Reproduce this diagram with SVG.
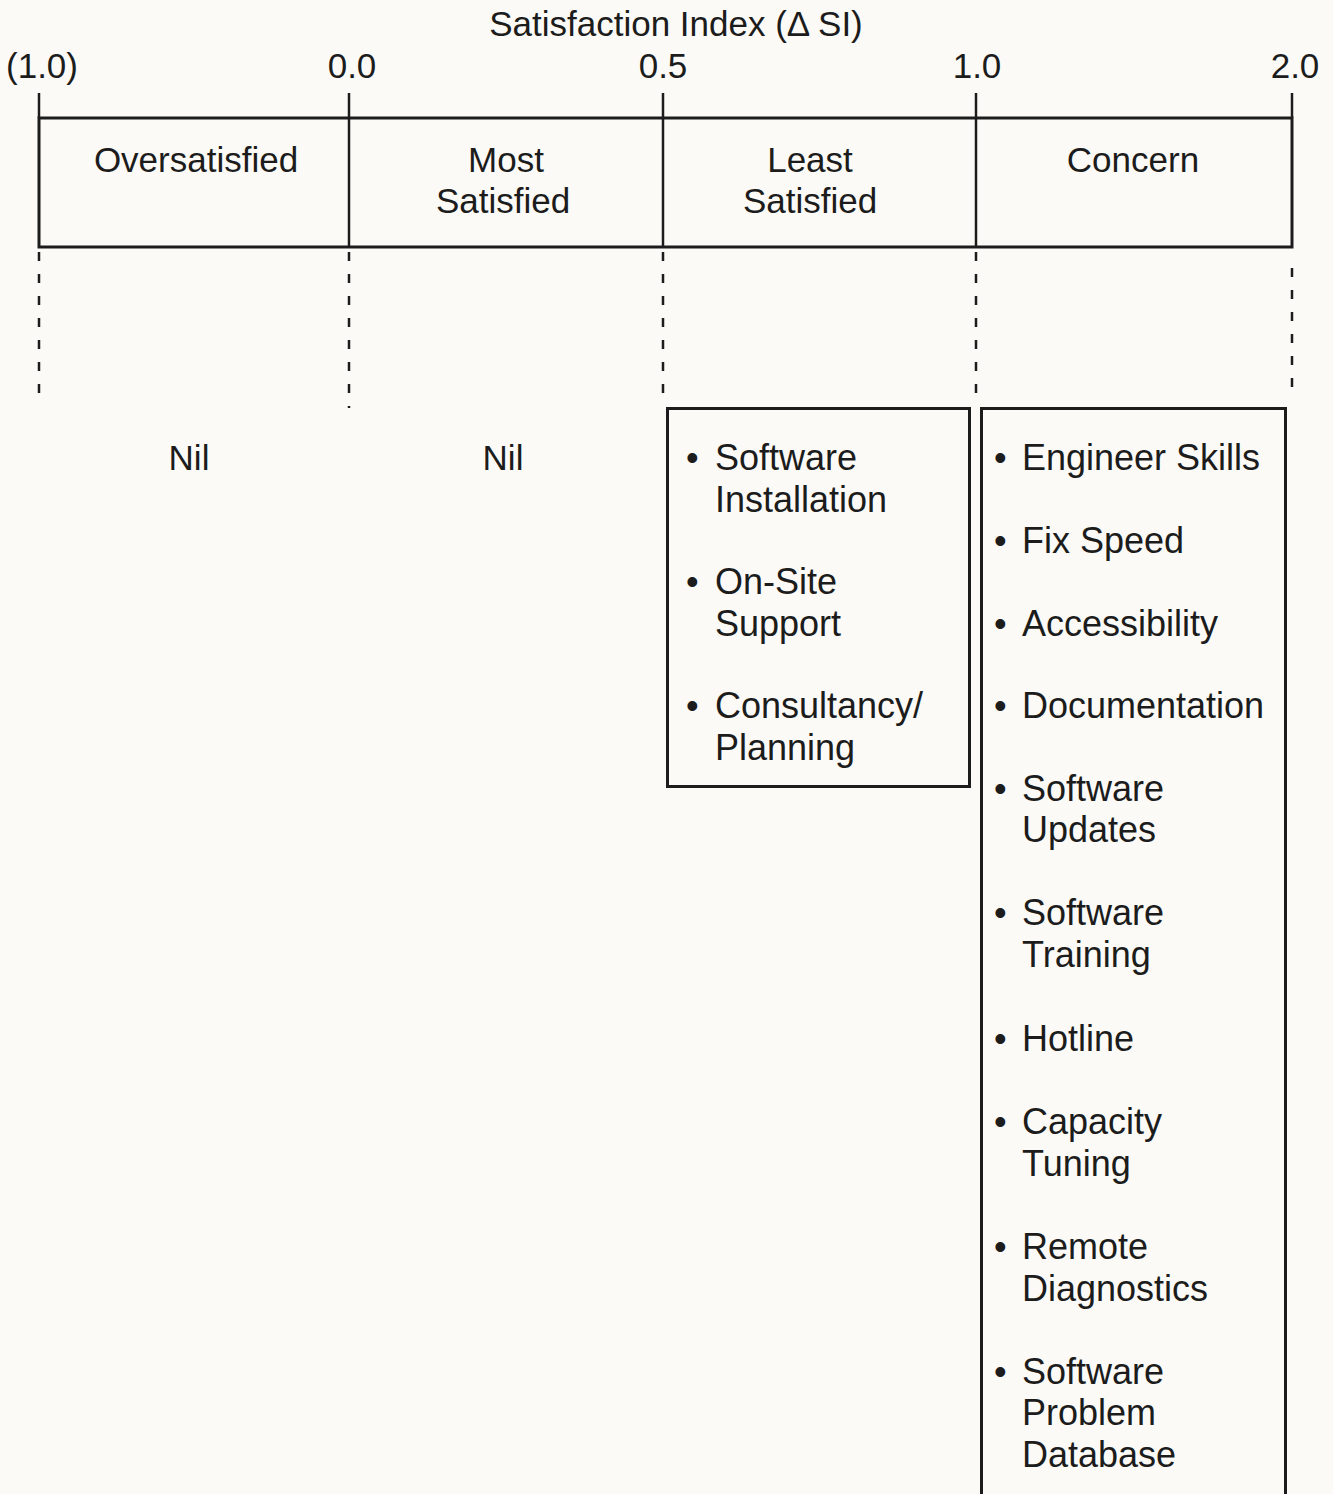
<svg xmlns="http://www.w3.org/2000/svg" width="1333" height="1494" viewBox="0 0 1333 1494">
<style>
text{font-family:"Liberation Sans",Arial,sans-serif;fill:#1c1c1c;font-size:35px}
.c{text-anchor:middle}
.it{font-size:36px}
.box{fill:none;stroke:#1c1c1c;stroke-width:3}
.tick{stroke:#1c1c1c;stroke-width:2.5}
.dash{stroke:#1c1c1c;stroke-width:2.5;stroke-dasharray:9 13}
</style>
<rect x="0" y="0" width="1333" height="1494" fill="#fbfaf6"/>
<g id="axis">
<text class="c" x="676" y="36">Satisfaction Index (Δ SI)</text>
<text class="c" x="42" y="78">(1.0)</text>
<text class="c" x="352" y="78">0.0</text>
<text class="c" x="663" y="78">0.5</text>
<text class="c" x="977" y="78">1.0</text>
<text class="c" x="1295" y="78">2.0</text>
<line class="tick" x1="39" y1="93" x2="39" y2="118"/>
<line class="tick" x1="349" y1="93" x2="349" y2="118"/>
<line class="tick" x1="663" y1="93" x2="663" y2="118"/>
<line class="tick" x1="976" y1="93" x2="976" y2="118"/>
<line class="tick" x1="1292" y1="93" x2="1292" y2="118"/>
</g>
<g id="band">
<rect class="box" x="39" y="118" width="1253" height="129"/>
<line class="tick" x1="349" y1="118" x2="349" y2="247"/>
<line class="tick" x1="663" y1="118" x2="663" y2="247"/>
<line class="tick" x1="976" y1="118" x2="976" y2="247"/>
<text class="c" x="196" y="172">Oversatisfied</text>
<text class="c" x="506" y="172">Most</text>
<text class="c" x="503" y="213">Satisfied</text>
<text class="c" x="810" y="172">Least</text>
<text class="c" x="810" y="213">Satisfied</text>
<text class="c" x="1133" y="172">Concern</text>
</g>
<g id="connectors">
<line class="dash" x1="39" y1="252" x2="39" y2="406"/>
<line class="dash" x1="349" y1="252" x2="349" y2="408"/>
<line class="dash" x1="663" y1="252" x2="663" y2="406"/>
<line class="dash" x1="976" y1="252" x2="976" y2="406"/>
<line class="dash" x1="1292" y1="268" x2="1292" y2="400"/>
</g>
<g id="nil-over">
<text class="c" x="189" y="470">Nil</text>
</g>
<g id="nil-most">
<text class="c" x="503" y="470">Nil</text>
</g>
<g id="least-list">
<rect class="box" x="667.5" y="408.5" width="302" height="378"/>
<text class="it" x="686" y="470">•</text><text class="it" x="715" y="470">Software</text>
<text class="it" x="715" y="512">Installation</text>
<text class="it" x="686" y="594">•</text><text class="it" x="715" y="594">On-Site</text>
<text class="it" x="715" y="636">Support</text>
<text class="it" x="686" y="718">•</text><text class="it" x="715" y="718">Consultancy/</text>
<text class="it" x="715" y="760">Planning</text>
</g>
<g id="concern-list">
<path class="box" d="M981.5 1500 V408.5 H1285.5 V1500"/>
<text class="it" x="994" y="470">•</text><text class="it" x="1022" y="470">Engineer Skills</text>
<text class="it" x="994" y="553">•</text><text class="it" x="1022" y="553">Fix Speed</text>
<text class="it" x="994" y="636">•</text><text class="it" x="1022" y="636">Accessibility</text>
<text class="it" x="994" y="718">•</text><text class="it" x="1022" y="718">Documentation</text>
<text class="it" x="994" y="801">•</text><text class="it" x="1022" y="801">Software</text>
<text class="it" x="1022" y="842">Updates</text>
<text class="it" x="994" y="925">•</text><text class="it" x="1022" y="925">Software</text>
<text class="it" x="1022" y="967">Training</text>
<text class="it" x="994" y="1051">•</text><text class="it" x="1022" y="1051">Hotline</text>
<text class="it" x="994" y="1134">•</text><text class="it" x="1022" y="1134">Capacity</text>
<text class="it" x="1022" y="1176">Tuning</text>
<text class="it" x="994" y="1259">•</text><text class="it" x="1022" y="1259">Remote</text>
<text class="it" x="1022" y="1301">Diagnostics</text>
<text class="it" x="994" y="1384">•</text><text class="it" x="1022" y="1384">Software</text>
<text class="it" x="1022" y="1425">Problem</text>
<text class="it" x="1022" y="1467">Database</text>
</g>
</svg>
